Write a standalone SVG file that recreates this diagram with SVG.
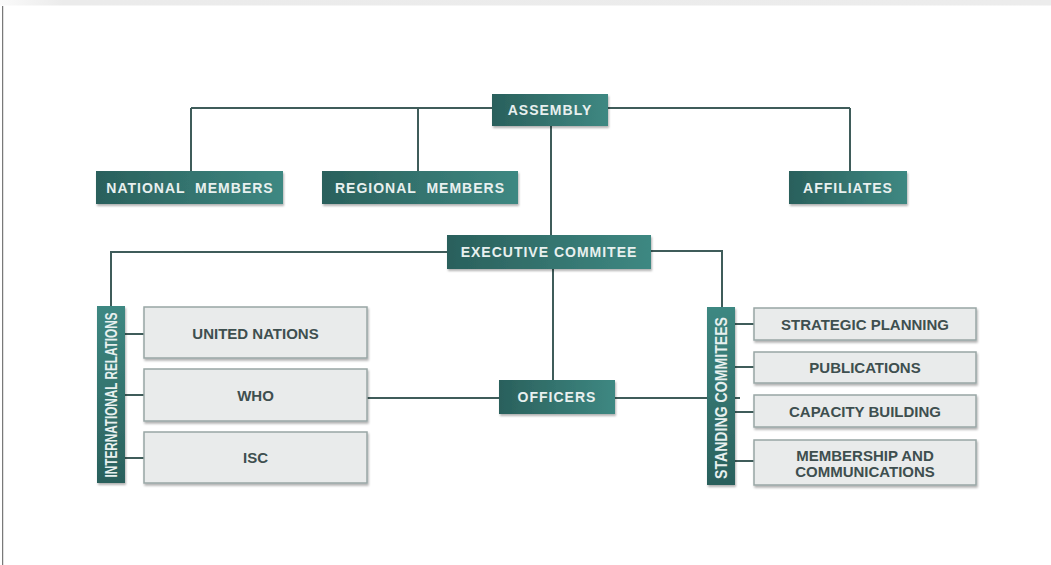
<svg xmlns="http://www.w3.org/2000/svg" width="1051" height="565" viewBox="0 0 1051 565">
<defs>
<linearGradient id="teal" x1="0" y1="0" x2="1" y2="0">
<stop offset="0" stop-color="#2a605c"/>
<stop offset="1" stop-color="#3e8882"/>
</linearGradient>
<linearGradient id="tealv" x1="0" y1="1" x2="0" y2="0">
<stop offset="0" stop-color="#2a605c"/>
<stop offset="1" stop-color="#3e8882"/>
</linearGradient>
<linearGradient id="topbar" x1="0" y1="0" x2="1" y2="0">
<stop offset="0" stop-color="#fafafa"/>
<stop offset="0.06" stop-color="#ebebeb"/>
<stop offset="1" stop-color="#ececec"/>
</linearGradient>
<filter id="sh" x="-10%" y="-20%" width="120%" height="150%">
<feDropShadow dx="1" dy="2" stdDeviation="1.2" flood-color="#000" flood-opacity="0.3"/>
</filter>
</defs>
<style>
.t{fill:url(#teal);filter:url(#sh)}
.tv{fill:url(#tealv);filter:url(#sh)}
.l{fill:#e9ebeb;stroke:#98a6a5;stroke-width:1.5;filter:url(#sh)}
.tt{font-family:"Liberation Sans",Arial,sans-serif;font-weight:bold;font-size:14px;letter-spacing:1px;fill:#e8f0ef;text-anchor:middle}
.vt{font-family:"Liberation Sans",Arial,sans-serif;font-weight:bold;font-size:16.5px;fill:#e8f0ef;text-anchor:middle}
.lt{font-family:"Liberation Sans",Arial,sans-serif;font-weight:bold;font-size:15px;fill:#3e4f4f;text-anchor:middle}
.c{fill:none;stroke:#3f5c5a;stroke-width:2}
</style>
<rect x="0" y="0" width="1051" height="565" fill="#ffffff"/>
<rect x="0" y="0" width="1051" height="5.5" fill="url(#topbar)"/>
<line x1="2.7" y1="6" x2="2.7" y2="565" stroke="#5a5a5a" stroke-width="1"/>

<g id="connectors">
<path class="c" d="M191 108 H850"/>
<path class="c" d="M191 108 V171"/>
<path class="c" d="M418 108 V171"/>
<path class="c" d="M850 108 V171"/>
<path class="c" d="M551 125 V235"/>
<path class="c" d="M111 306 V252 H447"/>
<path class="c" d="M651 251 H722 V307"/>
<path class="c" d="M553 269 V380"/>
<path class="c" d="M367 398 H740"/>
<path class="c" d="M125 334 H144"/>
<path class="c" d="M125 395 H144"/>
<path class="c" d="M125 458 H144"/>
<path class="c" d="M735 324 H754"/>
<path class="c" d="M735 367 H754"/>
<path class="c" d="M735 412 H754"/>
<path class="c" d="M735 461 H754"/>
</g>

<g id="assembly">
<rect class="t" x="492" y="94" width="116" height="32"/>
<text class="tt" x="550" y="115">ASSEMBLY</text>
</g>
<g id="national-members">
<rect class="t" x="96" y="171" width="187" height="33"/>
<text class="tt" x="190" y="192.5" xml:space="preserve">NATIONAL  MEMBERS</text>
</g>
<g id="regional-members">
<rect class="t" x="322" y="171" width="196" height="33"/>
<text class="tt" x="420" y="192.5" xml:space="preserve">REGIONAL  MEMBERS</text>
</g>
<g id="affiliates">
<rect class="t" x="789" y="171" width="118" height="33"/>
<text class="tt" x="848" y="192.5">AFFILIATES</text>
</g>
<g id="executive-commitee">
<rect class="t" x="447" y="235" width="204" height="34"/>
<text class="tt" x="549" y="257">EXECUTIVE COMMITEE</text>
</g>
<g id="officers">
<rect class="t" x="499" y="380" width="116" height="34"/>
<text class="tt" x="557" y="402">OFFICERS</text>
</g>
<g id="international-relations">
<rect class="tv" x="97" y="306" width="28" height="177"/>
<text class="vt" transform="translate(117 395) rotate(-90)" x="0" y="0" textLength="165" lengthAdjust="spacingAndGlyphs">INTERNATIONAL RELATIONS</text>
</g>
<g id="standing-commitees">
<rect class="tv" x="707" y="307" width="28" height="178"/>
<text class="vt" transform="translate(727 398) rotate(-90)" x="0" y="0" textLength="162" lengthAdjust="spacingAndGlyphs">STANDING COMMITEES</text>
</g>
<g id="united-nations">
<rect class="l" x="144" y="307" width="223" height="51"/>
<text class="lt" x="255.5" y="338.5">UNITED NATIONS</text>
</g>
<g id="who">
<rect class="l" x="144" y="369" width="223" height="52"/>
<text class="lt" x="255.5" y="400.5">WHO</text>
</g>
<g id="isc">
<rect class="l" x="144" y="432" width="223" height="51"/>
<text class="lt" x="255.5" y="463">ISC</text>
</g>
<g id="strategic-planning">
<rect class="l" x="754" y="308" width="222" height="32"/>
<text class="lt" x="865" y="329.5">STRATEGIC PLANNING</text>
</g>
<g id="publications">
<rect class="l" x="754" y="352" width="222" height="31"/>
<text class="lt" x="865" y="373">PUBLICATIONS</text>
</g>
<g id="capacity-building">
<rect class="l" x="754" y="395" width="222" height="32"/>
<text class="lt" x="865" y="416.5">CAPACITY BUILDING</text>
</g>
<g id="membership-communications">
<rect class="l" x="754" y="440" width="222" height="45"/>
<text class="lt" x="865" y="460.5">MEMBERSHIP AND</text>
<text class="lt" x="865" y="476.5">COMMUNICATIONS</text>
</g>
</svg>
